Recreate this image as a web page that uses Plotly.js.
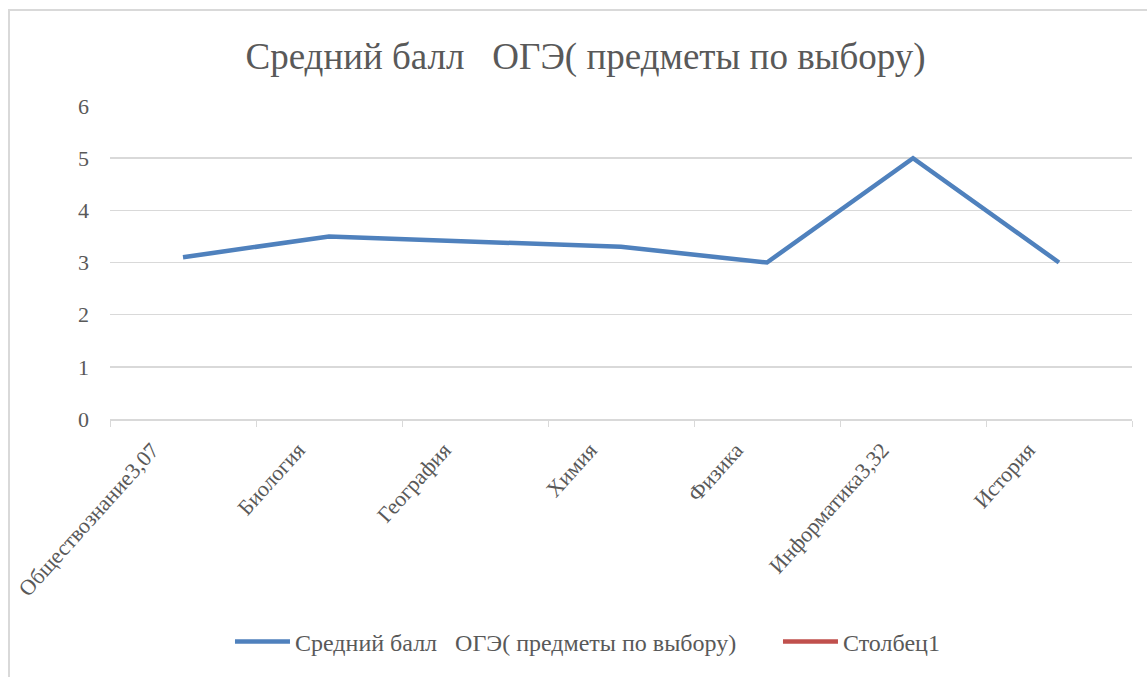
<!DOCTYPE html>
<html><head><meta charset="utf-8">
<script src="https://cdn.plot.ly/plotly-3.0.1.min.js"></script>
<style>
html,body{margin:0;padding:0;background:#fff;}
#wrap{position:relative;width:1147px;height:677px;overflow:hidden;}
#chart{position:absolute;left:0;top:0;width:1147px;height:677px;}
#frame{position:absolute;left:8px;top:9px;width:1160px;height:700px;border:2px solid #d9d9d9;pointer-events:none;}
</style></head>
<body><div id="wrap"><div id="chart"></div><div id="frame"></div></div>
<script>
const categories = ["Обществознание3,07","Биология","География","Химия","Физика","Информатика3,32","История"];
const avgScore = [3.1, 3.5, 3.4, 3.3, 3.0, 5.0, 3.0];
const column1 = [null, null, null, null, null, null, null];
const seriesNames = ["Средний балл   ОГЭ( предметы по выбору)", "Столбец1"];
const titleText = "Средний балл   ОГЭ( предметы по выбору)";

const FAM = 'Liberation Serif';
const data = [
  {x: categories, y: avgScore, name: seriesNames[0], type: 'scatter', mode: 'lines',
   line: {color: '#4F81BD', width: 4.5}, legend: 'legend'},
  {x: categories, y: column1, name: seriesNames[1], type: 'scatter', mode: 'lines',
   line: {color: '#C0504D', width: 4.5}, legend: 'legend2'}
];
const legendFont = {family: FAM, size: 24, color: '#595959'};
const layout = {
  width: 1147, height: 677,
  margin: {l: 110, r: 15, t: 106, b: 255},
  paper_bgcolor: '#fff', plot_bgcolor: '#fff',
  font: {family: FAM, size: 21, color: '#595959'},
  title: {text: titleText, font: {family: FAM, size: 37, color: '#595959'}, x: 0.5105, xanchor: 'center', y: 0.917, yanchor: 'middle'},
  xaxis: {type: 'category', range: [-0.5, 6.5], tickangle: -48, showgrid: false,
          showline: true, linecolor: '#d9d9d9', linewidth: 1.5,
          ticks: 'outside', ticklen: 6, tickcolor: '#d9d9d9', tickson: 'boundaries',
          ticklabelshift: -31, ticklabelstandoff: 8,
          tickfont: {family: FAM, size: 22, color: '#595959'}, zeroline: false, fixedrange: true},
  yaxis: {range: [0, 6], dtick: 1, showgrid: true, gridcolor: '#d9d9d9', gridwidth: 1.5,
          zeroline: false, showline: false, ticks: '', ticklabelstandoff: 20,
          tickfont: {family: FAM, size: 22, color: '#595959'}, fixedrange: true},
  showlegend: true,
  legend: {orientation: 'h', x: 0.1174, xanchor: 'left', y: -0.712, yanchor: 'middle',
           font: legendFont, itemwidth: 55},
  legend2: {orientation: 'h', x: 0.6536, xanchor: 'left', y: -0.712, yanchor: 'middle',
           font: legendFont, itemwidth: 55},
  hovermode: false
};
Plotly.newPlot('chart', data, layout, {displayModeBar: false, staticPlot: true});
</script></body></html>
